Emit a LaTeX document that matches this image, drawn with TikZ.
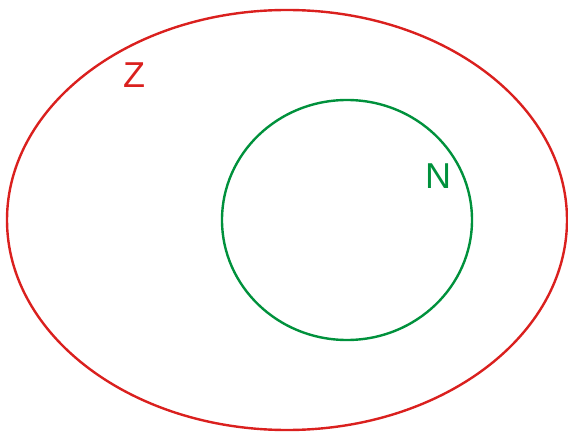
\documentclass[tikz,border=0pt]{standalone}
\usepackage{fontspec}
\setmainfont{Liberation Sans}
\usepackage{xcolor}
\usepackage{tikz}
\definecolor{setred}{RGB}{218,32,30}
\definecolor{setgreen}{RGB}{0,145,60}

\begin{document}
\begin{tikzpicture}[
      x=1pt, y=-1pt, font=\fontsize{36}{40}\selectfont,
      set/.style={line width=2.4pt},
      lbl/.style={inner sep=0pt, anchor=center},
    ]
      \useasboundingbox (0,0) rectangle (568,433);

      \draw[set, setred]   (287,220) ellipse [x radius=280, y radius=210];
      \draw[set, setgreen] (347,220) ellipse [x radius=125, y radius=120];

      \node[lbl, text=setred]   (zlab) at (134,75)  {Z};
      \node[lbl, text=setgreen] (nlab) at (438,176) {N};
    \end{tikzpicture}
\end{document}
